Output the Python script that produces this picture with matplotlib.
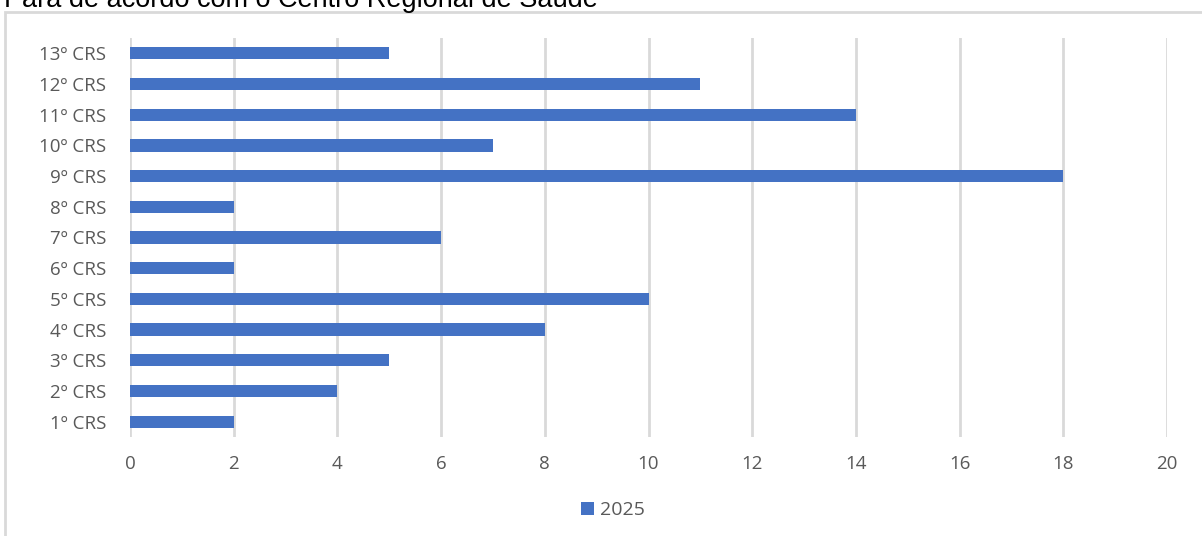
import matplotlib.pyplot as plt
from matplotlib.patches import Rectangle

categories = ["1º CRS", "2º CRS", "3º CRS", "4º CRS", "5º CRS", "6º CRS", "7º CRS",
              "8º CRS", "9º CRS", "10º CRS", "11º CRS", "12º CRS", "13º CRS"]
values_2025 = [2, 4, 5, 8, 10, 2, 6, 2, 18, 7, 14, 11, 5]
xticks = [0, 2, 4, 6, 8, 10, 12, 14, 16, 18, 20]

plt.rcParams['font.family'] = ['Open Sans', 'DejaVu Sans']

fig = plt.figure(figsize=(12.02, 5.36), dpi=100)

# outer chart border (right and bottom fall outside the picture)
fig.patches.append(Rectangle((5 / 1202, -0.1), 1.2, 1 - 12 / 536 + 0.1,
                             transform=fig.transFigure, fill=False,
                             edgecolor='#d9d9d9', linewidth=2))

fig.text(4 / 1202, 1 - 7 / 536, "Para de acordo com o Centro Regional de Saúde",
         family='Liberation Sans', fontsize=19.5, color='black', va='baseline', ha='left')

ax = fig.add_axes([130 / 1202, 1 - 437 / 536, (1167 - 130) / 1202, (437 - 38) / 536])
ax.barh(range(len(categories)), values_2025, height=0.4, color='#4472C4', label='2025', zorder=3)

ax.set_xlim(0, 20)
ax.set_ylim(-0.5, len(categories) - 0.5)
ax.set_xticks(xticks)
ax.set_yticks(range(len(categories)))
ax.set_yticklabels(categories)
ax.grid(axis='x', color='#d9d9d9', linewidth=2)
for s in ax.spines.values():
    s.set_visible(False)
ax.tick_params(length=0, labelsize=13.5, labelcolor='#595959')
ax.tick_params(axis='x', pad=13)
ax.tick_params(axis='y', pad=17)

fig.legend(loc='center', bbox_to_anchor=(613 / 1202, 1 - 510 / 536), frameon=False,
           fontsize=14, labelcolor='#595959', handlelength=0.65, handleheight=0.65,
           handletextpad=0.3)

fig.savefig("out.png", dpi=100)
